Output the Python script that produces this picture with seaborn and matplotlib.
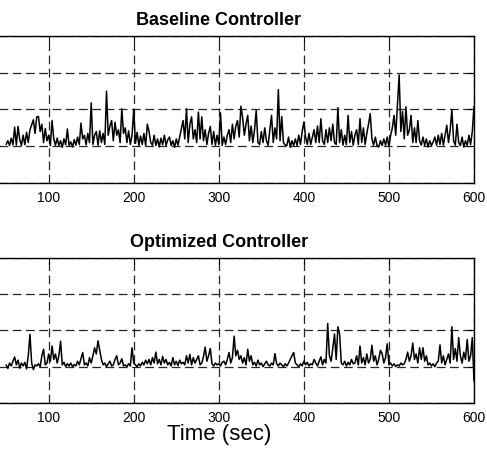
import numpy as np
import pandas as pd
import matplotlib
matplotlib.use("Agg")
import matplotlib.pyplot as plt
import seaborn as sns

# ---- data (2-s samples from t=50 s to t=600 s) ----
time_s = list(range(50, 601, 2))

baseline = [
    .05, .15, .02, .22, .04, .52, .03, .54, .18, .02,
    .30, .04, .38, .10, .45, .58, .72, .35, .80, .81,
    .40, .60, .10, .48, .15, .30, .02, .70, .20, .03,
    .22, .02, .15, -.03, .20, .04, .47, .02, .12, -.02,
    .18, .03, .25, .05, .63, .20, .30, .04, .35, .10,
    1.18, .05, .30, .40, .03, .42, .10, .35, .05, 1.50,
    .30, .55, .70, .15, .65, .30, .45, .10, 1.02, .35,
    .50, .10, .42, .05, .30, 1.00, .08, .38, .02, .28,
    .05, .35, .02, .60, .40, .10, .03, .30, .02, .20,
    -.02, .22, .04, .30, .02, .18, .25, .02, .15, -.03,
    .20, .03, .25, .48, .70, .20, 1.02, .10, .60, .80,
    .20, .45, .10, .93, .20, .80, .15, .45, .05, .35,
    .54, .05, .40, .03, .30, .05, .91, .02, .25, .05,
    .30, .45, .10, .60, .20, .55, .70, .25, 1.09, .78,
    .30, .60, .84, .15, .55, .10, .45, .98, .10, .05,
    .40, .10, .50, .15, .03, .45, .84, .10, .50, .20,
    1.54, .15, .81, .10, .03, .02, .25, -.03, .15, .02,
    .20, .02, .30, .05, .40, .66, .25, .05, .35, .05,
    .25, .45, .10, .55, .10, .75, .15, .05, .45, .10,
    .50, .15, .60, .10, .05, 1.05, .10, .45, .03, .30,
    .05, .84, .10, .40, .03, .30, .45, .05, .75, .10,
    .50, .05, .35, .60, .89, .20, .03, .25, .02, -.02,
    .15, .02, .20, .03, .25, -.02, .30, .50, .84, .30,
    1.11, 1.94, .40, .95, .20, 1.07, .30, .45, .84, .10,
    .50, .10, .70, .15, .03, .25, .02, .20, -.02, .15,
    .02, .12, .25, .03, .30, .05, .35, .03, .30, .57,
    .10, .45, 1.00, .15, .03, .60, .10, .02, .25, -.02,
    .15, .02, .30, .05, .40, 1.09,
]

optimized = [
    .05, -.05, .10, .02, .15, .27, .05, .18, -.04, .10,
    .02, .12, -.06, .30, .89, .10, -.08, .05, .02, .08,
    .00, .30, .48, .05, .10, .35, .15, .57, .20, .35,
    .10, .30, .70, .05, .12, .00, .08, .02, .10, .00,
    .06, .02, .15, .05, .22, .39, .05, .10, .02, .25,
    .10, .30, .52, .35, .71, .45, .20, .05, .10, .00,
    .08, .15, .02, .05, .20, .30, .05, .10, .22, .02,
    .05, .00, .08, .02, .52, .10, .05, .00, .08, .02,
    .12, .05, .18, .08, .20, .05, .25, .10, .40, .08,
    .20, .05, .28, .10, .20, .05, .12, .02, .25, .05,
    .15, .03, .18, .08, .12, .05, .30, .10, .34, .05,
    .25, .10, .20, .30, .05, .10, .28, .54, .15, .30,
    .50, .08, .02, .10, .05, .08, .02, .12, .15, .05,
    .20, .39, .10, .25, .84, .30, .45, .20, .30, .10,
    .25, .05, .48, .15, .30, .05, .12, .02, .18, .05,
    .10, .00, .08, .15, .05, .02, .10, .05, .36, .08,
    .02, .10, .05, .00, .08, .02, .10, .20, .30, .39,
    .10, .05, .00, .08, .02, .15, .05, .12, .02, .08,
    .05, .20, .10, .02, .15, .27, .05, .20, .10, 1.19,
    .30, .15, .50, .90, .20, 1.10, .90, .10, .05, .15,
    .02, .12, .05, .20, .08, .10, .30, .05, .57, .10,
    .25, .05, .35, .10, .20, .59, .15, .30, .05, .20,
    .45, .36, .10, .25, .63, .05, .10, .02, .08, .00,
    .05, .02, .10, .05, .08, .20, .40, .15, .30, .65,
    .20, .35, .10, .52, .20, .52, .15, .30, .05, .10,
    .02, .08, .00, .10, .15, .60, .10, .30, .05, .20,
    .35, .10, 1.10, .20, .50, .15, .80, .30, .10, .40,
    .20, .75, .15, .30, .80, -.40,
]

titles = ["Baseline Controller", "Optimized Controller"]
x_ticks = [100, 200, 300, 400, 500, 600]
y_ticks = [-1, 0, 1, 2, 3]

# ---- styling ----
sns.set_style("white")
plt.rcParams["font.family"] = ["Liberation Sans", "DejaVu Sans"]
plt.rcParams["text.color"] = "black"
plt.rcParams["axes.labelcolor"] = "black"
plt.rcParams["xtick.color"] = "black"
plt.rcParams["ytick.color"] = "black"

W, H = 487, 449
fig = plt.figure(figsize=(W / 100, H / 100), dpi=100)

# axes extents in pixels (left edge falls outside the cropped image)
ax_left_px, ax_right_px = -36.4, 474.0
boxes = [(36.0, 183.0), (257.7, 403.0)]

for i, (series, title, (top_px, bot_px)) in enumerate(zip([baseline, optimized], titles, boxes)):
    ax = fig.add_axes([ax_left_px / W, 1 - bot_px / H,
                       (ax_right_px - ax_left_px) / W, (bot_px - top_px) / H])
    df = pd.DataFrame({"t": time_s, "v": series})
    sns.lineplot(data=df, x="t", y="v", ax=ax, color="black", linewidth=1.1,
                 estimator=None)
    ax.set_xlim(0, 600)
    ax.set_ylim(-1, 3)
    ax.set_xticks(x_ticks)
    ax.set_yticks(y_ticks)
    ax.set_yticklabels([])
    ax.set_xticklabels([str(v) for v in x_ticks])
    ax.tick_params(axis="both", direction="in", length=4, width=0.8,
                   top=True, right=True, labelsize=10, pad=6, colors="black")
    ax.grid(True, color="0.15", linestyle=(0, (7, 3.6)), linewidth=0.9)
    for s in ax.spines.values():
        s.set_color("black")
        s.set_linewidth(1.0)
    ax.set_ylabel("")
    ax.set_title(title, fontsize=13, fontweight="bold", pad=8, color="black")
    if i == 1:
        ax.set_xlabel("Time (sec)", fontsize=16, color="black")
        ax.xaxis.set_label_coords(0.5, -0.145)
    else:
        ax.set_xlabel("")

fig.savefig("out.png", dpi=100)
